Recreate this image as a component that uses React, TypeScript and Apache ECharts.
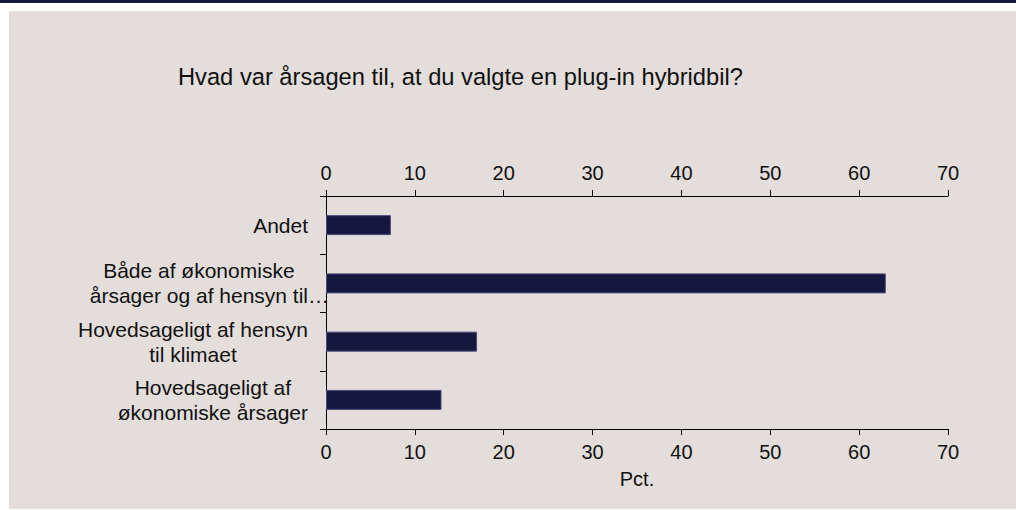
import React, { useEffect, useRef } from "react";
import * as echarts from "echarts";

const categories = [
  "Andet",
  "Både af økonomiske\nårsager og af hensyn til…",
  "Hovedsageligt af hensyn\ntil klimaet",
  "Hovedsageligt af\nøkonomiske årsager",
];
const values = [7.3, 63.0, 17.0, 13.0];
const xTicks = { min: 0, max: 70, interval: 10 };
const titleText = "Hvad var årsagen til, at du valgte en plug-in hybridbil?";
const xAxisName = "Pct.";

const FONT = "Arial, 'Liberation Sans', sans-serif";
const PANEL = "#e3dddb";
const NAVY = "#16163f";

function formatLabel(v: string): string {
  return v
    .split("\n")
    .map((l) => {
      if (l.endsWith("…")) {
        return "{l|" + l.slice(0, -1) + "}{e|…}";
      }
      return "{c|" + l + "}";
    })
    .join("\n");
}

export default function App() {
  const ref = useRef<HTMLDivElement>(null);
  useEffect(() => {
    if (!ref.current) return;
    const chart = echarts.init(ref.current, undefined, { renderer: "svg" });
    const axisCommon = {
      type: "value" as const,
      min: xTicks.min,
      max: xTicks.max,
      interval: xTicks.interval,
      splitLine: { show: false },
      axisLine: { show: true, onZero: false, lineStyle: { color: "#000", width: 1 } },
      axisTick: { show: true, inside: false, length: 6, lineStyle: { color: "#000" } },
      axisLabel: { color: "#111", fontSize: 20, fontFamily: FONT, margin: 13 },
    };
    const labelText = { fontSize: 21, fontFamily: FONT, color: "#111", lineHeight: 25 };
    chart.setOption({
      animation: false,
      backgroundColor: "#ffffff",
      graphic: [
        { type: "rect", z: -10, shape: { x: 0, y: 0, width: 1016, height: 3 }, style: { fill: NAVY } },
        { type: "rect", z: -10, shape: { x: 9, y: 11, width: 1007, height: 498 }, style: { fill: PANEL } },
      ],
      title: {
        text: titleText,
        left: 173,
        top: 60,
        textStyle: { fontSize: 23.7, fontWeight: "normal", color: "#111", fontFamily: FONT },
      },
      grid: { left: 326, right: 68, top: 196, bottom: 81, containLabel: false },
      xAxis: [
        {
          ...axisCommon,
          position: "bottom",
          name: xAxisName,
          nameLocation: "middle",
          nameGap: 40,
          nameTextStyle: { color: "#111", fontSize: 20, fontFamily: FONT },
        },
        { ...axisCommon, position: "top" },
      ],
      yAxis: {
        type: "category",
        data: categories,
        inverse: true,
        axisLine: { show: true, lineStyle: { color: "#000", width: 1 } },
        axisTick: { show: true, inside: false, length: 6, lineStyle: { color: "#000" } },
        axisLabel: {
          margin: 18,
          color: "#111",
          fontSize: 21,
          fontFamily: FONT,
          lineHeight: 25,
          align: "right",
          formatter: formatLabel,
          rich: {
            c: { align: "center", ...labelText },
            l: { align: "left", ...labelText },
            e: { align: "left", width: 0, ...labelText },
          },
        },
      },
      series: [
        {
          type: "bar",
          xAxisIndex: 0,
          data: values,
          barWidth: 20,
          itemStyle: { color: NAVY, borderColor: "#4b4b78", borderWidth: 1 },
        },
      ],
    });
    return () => chart.dispose();
  }, []);
  return (
    <div
      ref={ref}
      style={{ position: "absolute", left: 0, top: 0, width: 1016, height: 510 }}
    />
  );
}
